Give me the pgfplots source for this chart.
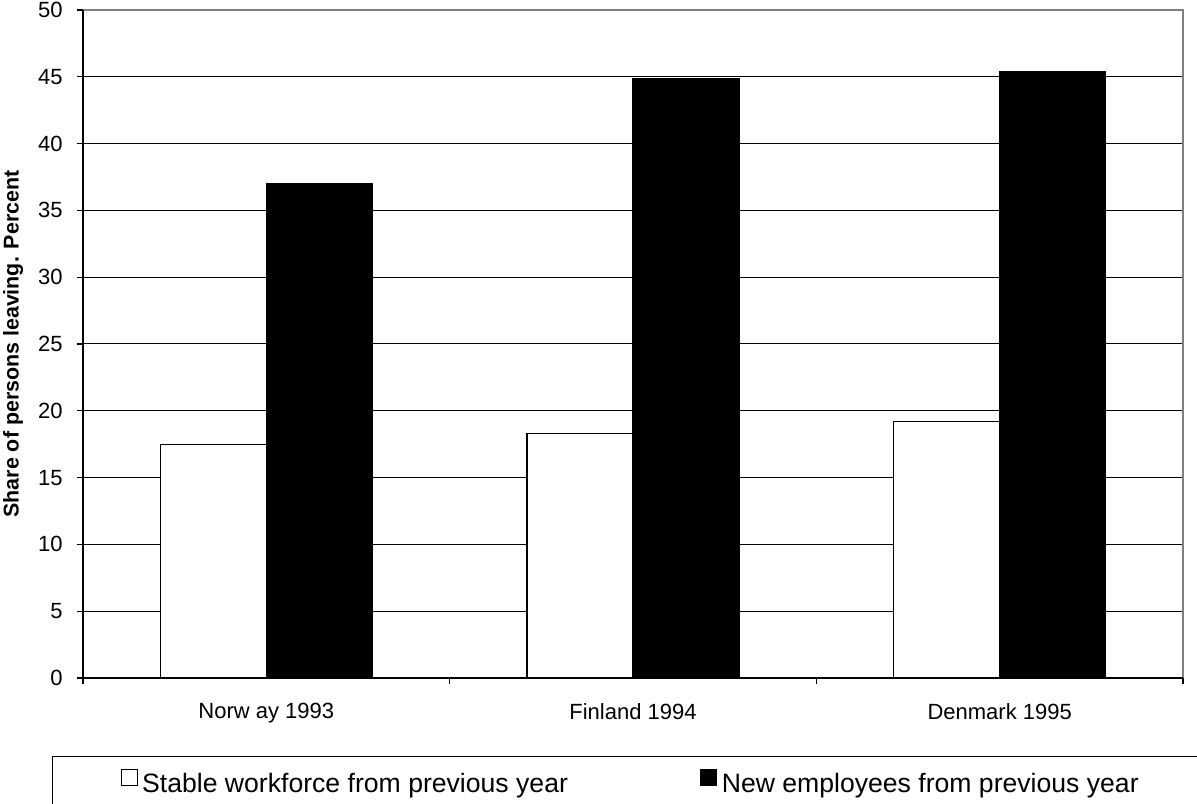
\documentclass[border=0pt]{standalone}
\usepackage{fontspec}
\setmainfont{Liberation Sans}
\usepackage{pgfplots}
\usepackage{pgfplotstable}
\pgfplotsset{compat=1.18}

% Share of persons leaving the workplace, percent
\pgfplotstableread{
x stable new
0 17.5 37.0
1 18.3 44.9
2 19.2 45.4
}\leaving

\begin{document}
\begin{tikzpicture}
\begin{axis}[
  at={(41.5pt,62.5pt)}, anchor=south west,
  scale only axis, width=550pt, height=334pt,
  clip=false,
  ybar=0pt, bar width=53pt,
  ymin=0, ymax=50, ytick={0,5,...,50},
  xmin=-0.5, xmax=2.5,
  xtick={-0.5,0.5,1.5,2.5}, xticklabels={},
  extra x ticks={0,1,2},
  extra x tick labels={Norw ay 1993, Finland 1994, Denmark 1995},
  extra x tick style={major tick length=0pt, grid=none},
  xtick pos=bottom, ytick pos=left,
  tick align=outside, major tick length=3pt,
  tick style={black, line width=0.6pt},
  ymajorgrids, major grid style={black, line width=0.5pt},
  axis line style={draw=none},
  /pgf/number format/assume math mode=true,
  yticklabel style={font=\fontsize{11}{13}\selectfont, inner sep=0pt, xshift=-7pt},
  xticklabel style={font=\fontsize{11}{13}\selectfont, yshift=-9pt},
  ylabel={\textbf{Share of persons leaving. Percent}},
  ylabel style={font=\fontsize{10.7}{12}\selectfont, anchor=center, at={(axis description cs:-0.0636,0.5)}},
  legend style={at={(axis description cs:-0.02818,-0.11677)}, anchor=north west,
    draw=black, line width=0.6pt, inner xsep=34pt, inner ysep=6pt,
    legend columns=2, font=\fontsize{13.3}{15}\selectfont,
    /tikz/every even column/.append style={column sep=0pt}},
  legend image code/.code={\draw[#1, line width=0.6pt] (0pt,-0.5pt) rectangle (8pt,7.5pt); \path[draw=none, fill=none] (0pt,0pt) -- (8.5pt,0pt);},
]
\addplot[fill=white, draw=black, line width=0.6pt] table[x=x, y=stable] {\leaving};
\addlegendentry{\makebox[277pt][l]{Stable workforce from previous year}}
\addplot[fill=black, draw=black, line width=0.6pt] table[x=x, y=new] {\leaving};
\addlegendentry{New employees from previous year}
\draw[gray, line width=0.8pt] (rel axis cs:0,1) -- (rel axis cs:1,1) -- (rel axis cs:1,0);
\draw[black, line width=0.8pt] (rel axis cs:0,1) -- (rel axis cs:0,0) -- (rel axis cs:1,0);
\end{axis}
\pgfresetboundingbox
\path[use as bounding box] (0pt,0pt) rectangle (598.5pt,401.5pt);
\end{tikzpicture}
\end{document}
